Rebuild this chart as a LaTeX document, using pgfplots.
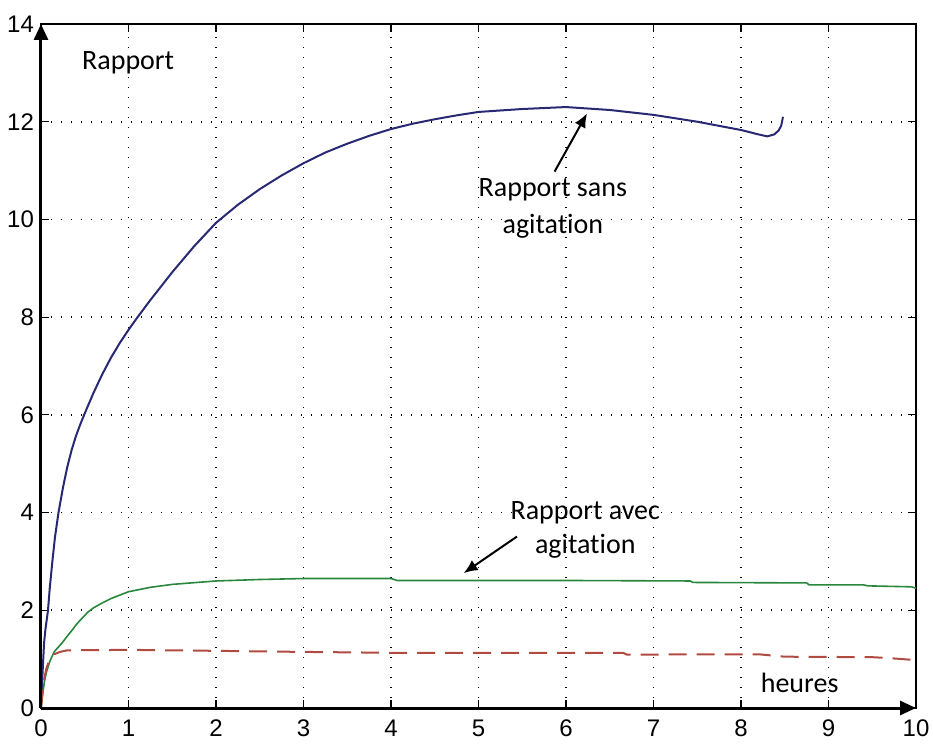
\documentclass[border=0pt]{standalone}
\usepackage{fontspec}
\setmainfont{Carlito}[Ligatures=NoCommon]
\newfontfamily\tickfont{Liberation Sans}
\usepackage{pgfplots}
\pgfplotsset{compat=1.18}
\usetikzlibrary{arrows.meta}
\definecolor{cblue}{RGB}{40,40,115}
\definecolor{cgreen}{RGB}{40,135,60}
\definecolor{cred}{RGB}{175,75,65}
\begin{document}
\begin{tikzpicture}
\begin{axis}[
  scale only axis, width=437.5pt, height=342pt,
  xmin=0, xmax=10, ymin=0, ymax=14,
  xtick={0,1,...,10}, ytick={0,2,...,14},
  tick align=inside, major tick length=4pt,
  tick style={black, line width=0.6pt},
  axis line style={black, line width=0.6pt},
  grid=major,
  grid style={black, line width=0.8pt, dash pattern=on 0.7pt off 4.3pt},
  /pgf/number format/assume math mode=true,
  ticklabel style={font=\tickfont\fontsize{12}{12}\selectfont},
  xticklabel style={yshift=-2.5pt},
  clip=false,
]
\addplot[cblue, line width=1pt] coordinates {
(0,0) (0.01,0.4) (0.02,0.8) (0.035,1.33) (0.05,1.6) (0.08,2) (0.1,2.45) (0.13,3) (0.16,3.5) (0.2,4)
(0.25,4.5) (0.3,4.93) (0.35,5.28) (0.4,5.57) (0.45,5.81) (0.5,6.03) (0.6,6.45) (0.7,6.83)
(0.8,7.17) (0.9,7.47) (1,7.74) (1.1,7.99) (1.25,8.35) (1.5,8.92) (1.75,9.45) (2,9.93)
(2.25,10.3) (2.5,10.62) (2.75,10.9) (3,11.15) (3.25,11.37) (3.5,11.55) (3.75,11.71)
(4,11.85) (4.25,11.96) (4.5,12.05) (4.75,12.13) (5,12.2) (5.5,12.26) (6,12.3) (6.5,12.24)
(7,12.14) (7.5,12.0) (8,11.83) (8.2,11.74) (8.3,11.7) (8.38,11.74) (8.43,11.82) (8.46,11.92) (8.48,12.1)
};
\addplot[cgreen, line width=0.8pt] coordinates {
(0,0) (0.02,0.3) (0.04,0.55) (0.06,0.72) (0.1,0.95) (0.15,1.15) (0.2,1.25) (0.24,1.33)
(0.3,1.47) (0.35,1.58) (0.4,1.7) (0.45,1.8) (0.54,1.97) (0.6,2.05) (0.7,2.15)
(0.8,2.24) (0.9,2.31) (1,2.38) (1.25,2.47) (1.5,2.53) (2,2.6) (2.5,2.63) (3,2.65)
(4,2.65) (4.07,2.61) (5,2.61) (6,2.61) (7.42,2.6) (7.45,2.57) (8.75,2.56)
(8.78,2.52) (9.4,2.52) (9.45,2.5) (9.95,2.48) (10,2.45)
};
\addplot[cred, line width=1pt, dash pattern=on 9pt off 5pt] coordinates {
(0,0) (0.02,0.35) (0.04,0.62) (0.06,0.8) (0.1,1.0) (0.15,1.1) (0.22,1.15) (0.3,1.18)
(1,1.19) (2,1.17) (2.9,1.15) (4,1.13) (5,1.13) (6.65,1.13) (6.7,1.09)
(7.5,1.1) (8.2,1.1) (8.5,1.05) (9.5,1.04) (9.7,1.02) (10,0.98)
};
\draw[black, line width=1.5pt, -{Triangle[length=8pt,width=7pt]}] (axis cs:0,0) -- (axis cs:0,14);
\draw[black, line width=1.5pt, -{Triangle[length=8pt,width=7pt]}] (axis cs:0,0) -- (axis cs:10,0);
\node[anchor=west, font=\fontsize{14}{14}\selectfont] at (axis cs:0.39,13.2) {Rapport};
\node[anchor=base, font=\fontsize{14}{14}\selectfont] at (axis cs:8.67,0.31) {heures};
\node[anchor=base, font=\fontsize{14}{14}\selectfont] at (axis cs:5.85,10.46) {Rapport sans};
\node[anchor=base, font=\fontsize{14}{14}\selectfont] at (axis cs:5.85,9.72) {agitation};
\node[anchor=base, font=\fontsize{14}{14}\selectfont] at (axis cs:6.22,3.85) {Rapport avec};
\node[anchor=base, font=\fontsize{14}{14}\selectfont] at (axis cs:6.22,3.17) {agitation};
\draw[black, line width=1pt, -{Latex[length=7pt,width=6pt]}] (axis cs:5.87,10.98) -- (axis cs:6.24,12.17);
\draw[black, line width=1pt, -{Latex[length=7pt,width=6pt]}] (axis cs:5.44,3.51) -- (axis cs:4.83,2.76);
\end{axis}
\pgfresetboundingbox
\path (-20.5pt,-18.5pt) rectangle (446pt,354pt);
\end{tikzpicture}
\end{document}
